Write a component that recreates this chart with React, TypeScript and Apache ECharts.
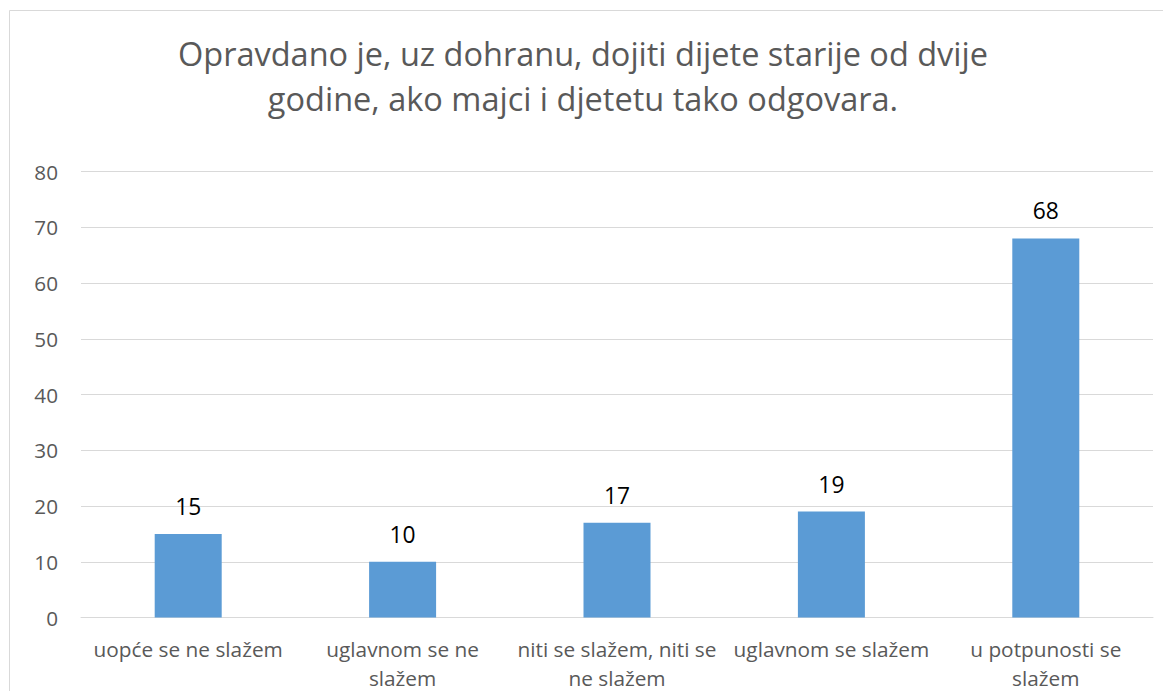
import React, { useEffect, useRef } from "react";
import * as echarts from "echarts";

const titleText = "Opravdano je, uz dohranu, dojiti dijete starije od dvije\ngodine, ako majci i djetetu tako odgovara.";
const categories = [
  "uopće se ne slažem",
  "uglavnom se ne slažem",
  "niti se slažem, niti se ne slažem",
  "uglavnom se slažem",
  "u potpunosti se slažem",
];
const categoryLabels = [
  "uopće se ne slažem",
  "uglavnom se ne\nslažem",
  "niti se slažem, niti se\nne slažem",
  "uglavnom se slažem",
  "u potpunosti se\nslažem",
];
const values = [15, 10, 17, 19, 68];
const yMin = 0;
const yMax = 80;
const yInterval = 10;

const FONT = "'Open Sans', 'Noto Sans', sans-serif";

export default function App() {
  const ref = useRef<HTMLDivElement>(null);
  useEffect(() => {
    if (!ref.current) return;
    const chart = echarts.init(ref.current, null, { renderer: "svg" });
    chart.setOption({
      animation: false,
      backgroundColor: "#ffffff",
      textStyle: { fontFamily: FONT },
      graphic: [
        {
          type: "rect",
          shape: { x: 9.5, y: 10.5, width: 1170, height: 700 },
          style: { fill: "none", stroke: "#d9d9d9", lineWidth: 1 },
          silent: true,
          z: -1,
        },
        {
          type: "text",
          x: 583,
          y: 31,
          silent: true,
          style: {
            text: titleText,
            align: "center",
            verticalAlign: "top",
            fontFamily: FONT,
            fontSize: 32.5,
            lineHeight: 45,
            fill: "#595959",
          },
        },
      ],
      grid: {
        left: 81,
        right: 10,
        top: 171.5,
        bottom: 73.5,
        outerBoundsMode: "none",
        containLabel: false,
      },
      xAxis: {
        type: "category",
        data: categories,
        axisLine: { show: true, lineStyle: { color: "#d9d9d9", width: 1 } },
        axisTick: { show: false },
        axisLabel: {
          interval: 0,
          margin: 16.5,
          fontFamily: FONT,
          fontSize: 20.8,
          lineHeight: 29,
          color: "#595959",
          formatter: (_v: string, idx: number) => categoryLabels[idx],
        },
      },
      yAxis: {
        type: "value",
        min: yMin,
        max: yMax,
        interval: yInterval,
        axisLine: { show: false },
        axisTick: { show: false },
        splitLine: { show: true, lineStyle: { color: "#d9d9d9", width: 1 } },
        axisLabel: {
          margin: 23,
          fontFamily: FONT,
          fontSize: 20.7,
          color: "#595959",
        },
      },
      series: [
        {
          type: "bar",
          data: values,
          barWidth: 67,
          itemStyle: { color: "#5b9bd5" },
          label: {
            show: true,
            position: "top",
            distance: 16,
            fontFamily: FONT,
            fontSize: 22.8,
            color: "#000000",
          },
        },
      ],
    });
    return () => chart.dispose();
  }, []);
  return (
    <div
      ref={ref}
      style={{ position: "fixed", left: 0, top: 0, width: 1163, height: 691 }}
    />
  );
}
